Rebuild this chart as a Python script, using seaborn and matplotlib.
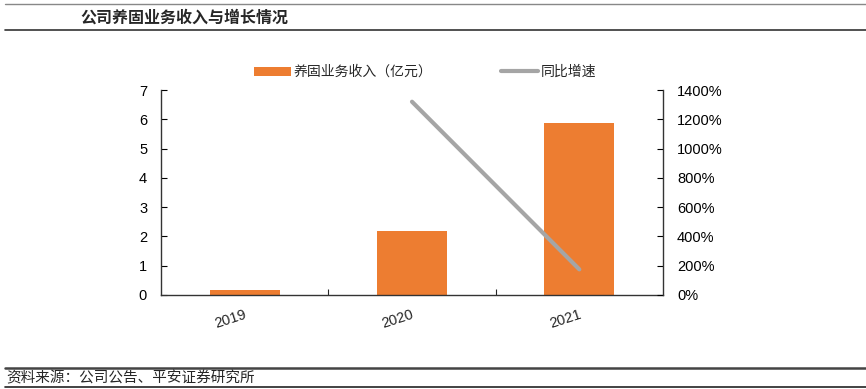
import numpy as np
import pandas as pd
import matplotlib
matplotlib.use("Agg")
import matplotlib.pyplot as plt
import matplotlib.transforms as mtransforms
import seaborn as sns
from matplotlib.patches import Patch
from matplotlib.lines import Line2D
from matplotlib.ticker import FuncFormatter, MultipleLocator

years = ["2019", "2020", "2021"]
revenue = [0.18, 2.18, 5.87]          # 亿元
growth = [np.nan, 1320.0, 175.0]      # %
bar_label = "养固业务收入（亿元）"
line_label = "同比增速"
title = "公司养固业务收入与增长情况"
source = "资料来源：公司公告、平安证券研究所"

sns.set_theme(style="white")
plt.rcParams["font.family"] = ["Liberation Sans", "Noto Sans CJK SC", "DejaVu Sans"]
cjk = ["Noto Sans CJK SC", "DejaVu Sans"]

orange = "#ED7D31"
gray = "#A5A5A5"

fig = plt.figure(figsize=(8.66, 3.89), dpi=100)
ax = fig.add_axes([161/866, 1-295/389, (663-161)/866, (295-90)/389])

df = pd.DataFrame({"year": years, "revenue": revenue})
sns.barplot(data=df, x="year", y="revenue", color=orange, width=0.42,
            saturation=1, ax=ax, edgecolor="none")
ax.set_xlim(-0.5, len(years)-0.5)
ax.set_ylim(0, 7)
ax.yaxis.set_major_locator(MultipleLocator(1))
ax.set_xlabel("")
ax.set_ylabel("")

ax2 = ax.twinx()
gdf = pd.DataFrame({"pos": np.arange(len(years)), "growth": growth}).dropna()
sns.lineplot(data=gdf, x="pos", y="growth", color=gray, linewidth=3.0, ax=ax2)
ax2.set_ylim(0, 1400)
ax2.yaxis.set_major_locator(MultipleLocator(200))
ax2.yaxis.set_major_formatter(FuncFormatter(lambda v, p: f"{v:.0f}%"))
ax2.set_xlabel("")
ax2.set_ylabel("")
ax2.set_xlim(-0.5, len(years)-0.5)

for a in (ax, ax2):
    a.spines["top"].set_visible(False)
    for s in ("left", "right", "bottom"):
        a.spines[s].set_color("#333333")
        a.spines[s].set_linewidth(1.0)
ax.spines["right"].set_visible(False)
ax2.spines["left"].set_visible(False)
ax2.spines["bottom"].set_visible(False)

ax.tick_params(axis="y", direction="in", length=4, width=0.8, colors="#000000",
               labelsize=10.5, pad=10, left=True)
ax2.tick_params(axis="y", direction="in", length=4, width=0.8, colors="#000000",
                labelsize=10.5, pad=10, right=True)
# x ticks between categories
ax.set_xticks(np.arange(len(years)))
ax.set_xticklabels(years, rotation=18, fontsize=10.5)
ax.tick_params(axis="x", length=0, pad=9)
shift = mtransforms.ScaledTranslation(-14/100, 0, fig.dpi_scale_trans)
for lbl in ax.get_xticklabels():
    lbl.set_transform(lbl.get_transform() + shift)
ax.set_xticks(np.arange(len(years)-1) + 0.5, minor=True)
ax.tick_params(axis="x", which="minor", direction="in", length=4, width=0.8, bottom=True)

handles = [Patch(facecolor=orange, edgecolor="none", label=bar_label),
           Line2D([0], [0], color=gray, linewidth=3.0, label=line_label)]
leg = fig.legend(handles=handles, loc="center", bbox_to_anchor=(425/866, 1-72/389),
                 ncol=2, frameon=False, columnspacing=4.9, handlelength=2.7,
                 handleheight=0.6, handletextpad=0.2, prop={"family": cjk, "size": 10})

# header
fig.text(80/866, 1-18/389, title, fontsize=11.5, family=cjk, fontweight="bold",
         va="center", ha="left")
fig.add_artist(Line2D([5/866, 1], [1-4/389, 1-4/389], color="#888888", linewidth=1.0))
fig.add_artist(Line2D([5/866, 1], [1-30/389, 1-30/389], color="#333333", linewidth=1.2))
# footer
fig.add_artist(Line2D([5/866, 1], [1-368/389, 1-368/389], color="#444444", linewidth=1.8))
fig.text(6/866, 1-378/389, source, fontsize=10.5, family=cjk, style="italic",
         va="center", ha="left")
fig.add_artist(Line2D([5/866, 1], [1-387/389, 1-387/389], color="#222222", linewidth=1.2))

fig.savefig("out.png", dpi=100)
